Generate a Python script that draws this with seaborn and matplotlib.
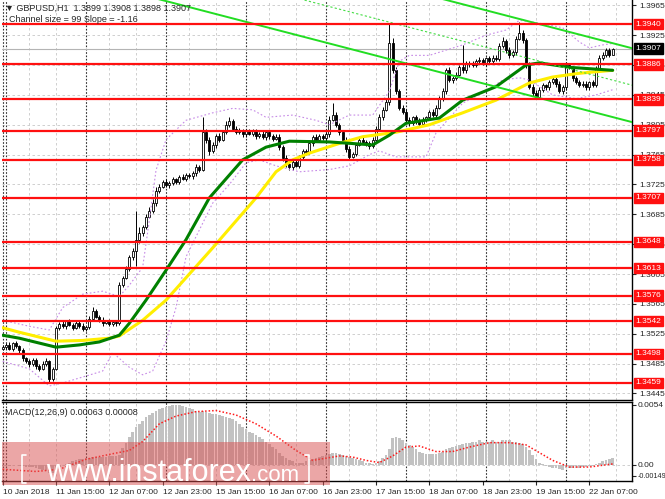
import numpy as np
import matplotlib
matplotlib.use("Agg")
import matplotlib.pyplot as plt
import matplotlib.transforms as mtransforms
from matplotlib.patches import Rectangle
from matplotlib.lines import Line2D
import seaborn as sns

# -----------------------------------
# Data (GBPUSD H1, one value per hourly bar)
# -----------------------------------
first_open = 1.3505

close = [
    1.3507, 1.3510, 1.3505, 1.3512, 1.3508, 1.3503,
    1.3492, 1.3488, 1.3484, 1.3490, 1.3482, 1.3478, 1.3485,
    1.3488, 1.3465, 1.3478, 1.3533,
    1.3538, 1.3535, 1.3542, 1.3537, 1.3533, 1.3540, 1.3536, 1.3531, 1.3534,
    1.3545, 1.3555, 1.3548,
    1.3544, 1.3540, 1.3542, 1.3538, 1.3541, 1.3539,
    1.3590, 1.3600, 1.3612, 1.3628, 1.3636, 1.3650, 1.3660, 1.3668, 1.3682, 1.3690,
    1.3700, 1.3716, 1.3722, 1.3728, 1.3724, 1.3727,
    1.3732, 1.3728, 1.3735, 1.3733, 1.3738, 1.3736, 1.3740, 1.3748, 1.3745,
    1.3795, 1.3785, 1.3770, 1.3778, 1.3790, 1.3785, 1.3795, 1.3805, 1.3810, 1.3800,
    1.3795, 1.3798, 1.3792, 1.3796, 1.3793, 1.3797, 1.3790, 1.3792, 1.3788, 1.3795,
    1.3790, 1.3786, 1.3789,
    1.3775, 1.3760, 1.3752, 1.3748, 1.3755, 1.3750, 1.3762, 1.3770, 1.3768, 1.3780,
    1.3788, 1.3785, 1.3790, 1.3787, 1.3792,
    1.3812, 1.3818, 1.3805, 1.3795, 1.3785, 1.3772, 1.3762, 1.3766, 1.3778, 1.3785,
    1.3782, 1.3780, 1.3776, 1.3784,
    1.3800, 1.3815, 1.3825, 1.3835, 1.3915, 1.3878, 1.3850, 1.3828, 1.3822,
    1.3812, 1.3808, 1.3815, 1.3810, 1.3806, 1.3812, 1.3815, 1.3822, 1.3818, 1.3828,
    1.3840, 1.3850, 1.3878, 1.3865, 1.3868, 1.3872,
    1.3882, 1.3878, 1.3886, 1.3888, 1.3885, 1.3890, 1.3892, 1.3888, 1.3894, 1.3890,
    1.3895, 1.3893,
    1.3910, 1.3917, 1.3905, 1.3898, 1.3902, 1.3920, 1.3928, 1.3918, 1.3885, 1.3856,
    1.3848, 1.3842,
    1.3852, 1.3858, 1.3855, 1.3862, 1.3866, 1.3860, 1.3850, 1.3855, 1.3885, 1.3882,
    1.3868, 1.3862,
    1.3858, 1.3860, 1.3855, 1.3862, 1.3858, 1.3880, 1.3895, 1.3898, 1.3905, 1.3899,
    1.3907,
]

# wick lengths above / below the body, in pips
hi_wick = [
    3, 2, 4, 2, 3, 2, 3, 2, 3, 2, 3, 2,
    3, 4, 2, 2, 3, 3, 4, 2, 3, 2, 3, 2,
    3, 2, 4, 6, 3, 2, 3, 2, 3, 2, 3, 4,
    3, 4, 3, 4, 40, 8, 3, 4, 5, 6, 5, 4,
    3, 4, 3, 3, 2, 3, 4, 3, 2, 3, 4, 3,
    20, 4, 3, 4, 3, 4, 3, 5, 6, 3, 4, 3,
    2, 3, 4, 3, 2, 3, 4, 3, 2, 3, 3, 4,
    3, 4, 2, 3, 4, 3, 2, 3, 4, 3, 4, 3,
    2, 3, 5, 16, 4, 3, 2, 3, 4, 3, 3, 4,
    3, 2, 3, 4, 3, 4, 4, 5, 25, 6, 4, 3,
    3, 4, 3, 2, 3, 4, 3, 2, 3, 4, 3, 4,
    4, 3, 4, 3, 4, 3, 30, 4, 3, 2, 3, 4,
    3, 2, 3, 4, 3, 4, 5, 3, 4, 3, 4, 15,
    4, 3, 4, 3, 3, 4, 3, 2, 3, 4, 3, 4,
    3, 4, 3, 2, 3, 3, 4, 3, 2, 3, 4, 3,
    4, 3, 3, 1,
]
lo_wick = [
    2, 3, 2, 3, 2, 4, 3, 2, 3, 2, 4, 3,
    2, 3, 6, 3, 2, 3, 2, 3, 2, 3, 2, 3,
    2, 3, 2, 3, 2, 3, 4, 2, 3, 2, 3, 2,
    3, 2, 3, 4, 20, 3, 4, 3, 2, 3, 4, 3,
    2, 3, 4, 3, 2, 3, 2, 3, 2, 3, 4, 3,
    2, 4, 5, 3, 4, 3, 2, 3, 3, 4, 3, 2,
    3, 4, 2, 3, 4, 3, 2, 3, 4, 3, 2, 4,
    4, 3, 4, 3, 2, 3, 4, 3, 2, 3, 2, 3,
    3, 4, 3, 2, 3, 4, 3, 4, 3, 2, 3, 2,
    3, 4, 3, 2, 3, 2, 3, 2, 4, 3, 4, 3,
    2, 4, 5, 3, 4, 3, 2, 3, 4, 3, 3, 2,
    3, 4, 3, 4, 3, 2, 3, 4, 3, 2, 3, 2,
    3, 4, 2, 3, 2, 3, 2, 4, 3, 2, 3, 2,
    3, 4, 3, 5, 3, 2, 3, 4, 3, 2, 4, 3,
    4, 3, 2, 4, 3, 3, 2, 4, 3, 2, 3, 2,
    3, 2, 3, 1,
]

# moving averages (bar index, price)
green_idx = [0, 5, 16, 23, 29, 35, 38, 43, 49, 55, 62, 72, 79, 86, 98, 111,
             116, 121, 131, 138, 148, 157, 161, 170, 183]
green_val = [1.3523, 1.3519, 1.3507, 1.3510, 1.3514, 1.3523, 1.3539, 1.3570,
             1.3610, 1.3651, 1.3707, 1.3758, 1.3775, 1.3783, 1.3782, 1.3778,
             1.3791, 1.3807, 1.3814, 1.3838, 1.3856, 1.3885, 1.3888, 1.3882, 1.3878]
yellow_idx = [0, 5, 16, 24, 32, 35, 42, 49, 63, 76, 82, 87, 92, 101, 108, 118,
              128, 138, 148, 158, 165, 173, 183]
yellow_val = [1.3533, 1.3527, 1.3515, 1.3516, 1.3519, 1.3522, 1.3543, 1.3570,
              1.3640, 1.3707, 1.3742, 1.3758, 1.3767, 1.3780, 1.3789, 1.3795,
              1.3805, 1.3821, 1.3838, 1.3861, 1.3869, 1.3874, 1.3878]

# Bollinger-style envelope (purple dotted)
band_up_idx = [0, 8, 14, 18, 24, 30, 35, 38, 42, 44, 46, 49, 55, 63, 69, 75, 79,
               87, 94, 98, 104, 111, 116, 119, 122, 128, 138, 145, 151, 155, 160,
               168, 173, 176, 180, 183]
band_up_val = [1.3543, 1.3535, 1.3530, 1.3560, 1.3578, 1.3582, 1.3575, 1.3590,
               1.3614, 1.3677, 1.3744, 1.3785, 1.3811, 1.3821, 1.3827, 1.3825,
               1.3815, 1.3818, 1.3811, 1.3805, 1.3818, 1.3818, 1.3850, 1.3890,
               1.3898, 1.3898, 1.3912, 1.3925, 1.3932, 1.3945, 1.3942, 1.3935,
               1.3916, 1.3908, 1.3912, 1.3914]
band_lo_idx = [0, 8, 14, 18, 30, 33, 38, 42, 45, 49, 52, 55, 59, 63, 68, 73, 77,
               82, 89, 95, 98, 104, 110, 113, 118, 127, 130, 138, 145, 150, 155,
               158, 165, 172, 178, 183]
band_lo_val = [1.3488, 1.3478, 1.3455, 1.3459, 1.3475, 1.3500, 1.3480, 1.3470,
               1.3475, 1.3515, 1.3560, 1.3628, 1.3664, 1.3700, 1.3725, 1.3754,
               1.3758, 1.3750, 1.3742, 1.3744, 1.3745, 1.3750, 1.3765, 1.3770,
               1.3762, 1.3762, 1.3794, 1.3834, 1.3850, 1.3865, 1.3868, 1.3865,
               1.3845, 1.3840, 1.3845, 1.3852]

# descending channel (end points: bar index, price)
chan_up_idx, chan_up_val = [120, 190], [1.39874, 1.39062]
chan_mid_idx, chan_mid_val = [80, 190], [1.39843, 1.38567]
chan_lo_idx, chan_lo_val = [40, 190], [1.39812, 1.38072]

# support / resistance levels
levels = [1.3940, 1.3886, 1.3839, 1.3797, 1.3758, 1.3707, 1.3648, 1.3613,
          1.3576, 1.3542, 1.3498, 1.3459]
last_price = 1.3907
price_ticks = [1.3445, 1.3485, 1.3525, 1.3565, 1.3605, 1.3645, 1.3685, 1.3725,
               1.3765, 1.3805, 1.3845, 1.3885, 1.3925, 1.3965]

# MACD(12,26,9): histogram per bar (x 1e-4), signal line (bar index, x 1e-4)
macd_hist = [
    -1, -1, -1, -0.5, -0.5, -1, -1.5, -2, -2, -2,
    -3, -4, -5, -6, -7, -7,
    -4, -2, 0, 1, 2,
    3, 4, 5, 5, 6, 6, 7, 7, 7, 7,
    7, 8, 8, 8, 9,
    15, 20, 25, 30, 34, 37, 40, 43, 45, 47, 49, 50, 51, 52, 53, 54, 54, 54, 53,
    52, 51, 50, 49, 48, 49,
    48, 47, 46, 46, 45, 44, 43, 42, 41, 40,
    37, 34, 32, 30, 29, 27, 25, 23, 21, 19, 16, 14, 11, 8, 6, 4, 3, 2, 1.5, 2,
    3, 4, 5, 6, 7, 8, 9, 10, 11, 11,
    10, 9, 8, 7, 6, 5, 4, 3, 2, 1.5, 1, 1.5, 3, 6, 9, 14,
    24, 25, 24, 22, 20, 18, 16, 14, 12, 11, 10, 10, 10, 10, 11, 12, 14, 15, 16,
    17, 18, 19, 20,
    20, 21, 21, 22, 21, 21, 21, 22, 21, 21, 22, 22, 22, 21,
    21, 20, 19, 16, 13, 9, 5, 2, 0.5, -1, -2, -2.5, -3, -4, -5, -3, -3, -2.5,
    -2.5, -2.5, -2, -2, -1.5, -1, 0.5, 2, 3, 4, 5, 6.3,
]
sig_idx = [0, 10, 17, 25, 33, 38, 42, 47, 52, 58, 64, 70, 76, 82, 88, 93, 97, 101,
           105, 109, 113, 117, 121, 125, 130, 135, 140, 146, 152, 157, 161, 165,
           170, 176, 183]
sig_val = [-4, -6, -4, 5, 10, 13, 21, 37, 44, 48, 49, 45, 37, 26, 13, 4, 6, 8, 7,
           4, 2, 8, 16, 17, 12, 12, 16, 20, 20, 18, 11, 4, -2, -2, 0.8]

# time axis labels (bar index, text)
xlab_idx = [0, 16, 32, 48, 64, 80, 96, 112, 128, 144, 160, 176]
xlab_txt = ["10 Jan 2018", "11 Jan 15:00", "12 Jan 07:00", "12 Jan 23:00",
            "15 Jan 15:00", "16 Jan 07:00", "16 Jan 23:00", "17 Jan 15:00",
            "18 Jan 07:00", "18 Jan 23:00", "19 Jan 15:00", "22 Jan 07:00"]
day_starts = [1, 25, 49, 73, 97, 121, 145, 169]

# -----------------------------------
# Style
# -----------------------------------
sns.set_style("white")
plt.rcParams['font.family'] = ['Liberation Sans', 'DejaVu Sans']

fig = plt.figure(figsize=(6.65, 4.99), dpi=100)
ax = fig.add_axes([2 / 665, 1 - 400 / 499, 630 / 665, 400 / 499])
ax2 = fig.add_axes([2 / 665, 1 - 481 / 499, 630 / 665, 79 / 499])

xmin, xmax = -0.2, 188.8

# -----------------------------------
# Candles
# -----------------------------------
closes = np.array(close)
opens = np.concatenate([[first_open], closes[:-1]])
idx = np.arange(len(closes))
body_lo = np.minimum(opens, closes)
body_hi = np.maximum(opens, closes)
highs = body_hi + np.array(hi_wick) * 1e-4
lows = body_lo - np.array(lo_wick) * 1e-4
heights = np.maximum(body_hi - body_lo, 0.00003)
bull = closes >= opens

ax.vlines(idx, lows, highs, color='black', lw=0.7, zorder=2)
ax.bar(idx[bull], heights[bull], bottom=body_lo[bull], width=0.62,
       color='white', edgecolor='black', lw=0.6, zorder=3)
ax.bar(idx[~bull], heights[~bull], bottom=body_lo[~bull], width=0.62,
       color='black', edgecolor='black', lw=0.6, zorder=3)

# envelope
ax.plot(band_up_idx, band_up_val, color='#c68ae6', ls=(0, (1.5, 2)), lw=0.8, zorder=3.5)
ax.plot(band_lo_idx, band_lo_val, color='#c68ae6', ls=(0, (1.5, 2)), lw=0.8, zorder=3.5)

# moving averages
sns.lineplot(x=yellow_idx, y=yellow_val, color='#ffee00', lw=2.2, ax=ax, zorder=4)
sns.lineplot(x=green_idx, y=green_val, color='#008000', lw=2.2, ax=ax, zorder=4.2)

# channel
ax.plot(chan_up_idx, chan_up_val, color='#22dd22', lw=1.4, zorder=5)
ax.plot(chan_lo_idx, chan_lo_val, color='#22dd22', lw=1.4, zorder=5)
ax.plot(chan_mid_idx, chan_mid_val, color='#44dd44', lw=0.8, ls=(0, (2, 2)), zorder=5)

# current price
ax.axhline(last_price, color='#b4b4b4', lw=0.8, zorder=1.5)

# levels
for lv in levels:
    ax.axhline(lv, color='#ff1010', lw=1.6, zorder=6)

# grid
for i in range(0, 190, 8):
    if i % 24 != 0:
        for a in (ax, ax2):
            a.axvline(i, color='#c8c8c8', lw=0.6, ls=(0, (3, 3)), zorder=0.5)
for d in [0] + day_starts:
    for a in (ax, ax2):
        a.axvline(d, color='#303030', lw=0.8, ls=(0, (1.5, 1.5)), zorder=0.6)
for t in price_ticks:
    ax.axhline(t, color='#c8c8c8', lw=0.6, ls=(0, (3, 3)), zorder=0.5)

ax.set_xlim(xmin, xmax)
ax.set_ylim(1.34362, 1.39722)
ax.yaxis.tick_right()
ax.set_yticks(price_ticks)
ax.set_yticklabels([f"{t:.4f}" for t in price_ticks])
ax.tick_params(axis='y', labelsize=6, length=3, pad=2, direction='out', right=True)
ax.set_xticks([])
for s in ('left', 'top'):
    ax.spines[s].set_visible(False)
for s in ('right', 'bottom'):
    ax.spines[s].set_color('black')
    ax.spines[s].set_linewidth(1)

trans = mtransforms.blended_transform_factory(ax.transAxes, ax.transData)
for lv in levels:
    ax.text(1.006, lv, f"{lv:.4f}", transform=trans, ha='left', va='center',
            fontsize=6, color='white', zorder=10, clip_on=False,
            bbox=dict(boxstyle='square,pad=0.22', fc='#ff1010', ec='#ff1010'))
ax.text(1.006, last_price, f"{last_price:.4f}", transform=trans, ha='left',
        va='center', fontsize=6, color='white', zorder=10, clip_on=False,
        bbox=dict(boxstyle='square,pad=0.22', fc='black', ec='black'))

# -----------------------------------
# MACD panel
# -----------------------------------
hist = np.array(macd_hist) * 1e-4
ax2.bar(idx, hist, width=0.85, color='#c2c2c2', lw=0, zorder=2)
ax2.plot(sig_idx, np.array(sig_val) * 1e-4, color='#ff1a1a', lw=1.1,
         ls=(0, (1, 1.3)), zorder=3)
ax2.axhline(0, color='#c8c8c8', lw=0.6, ls=(0, (3, 3)), zorder=0.5)
ax2.set_xlim(xmin, xmax)
ax2.set_ylim(-0.00146, 0.00567)
ax2.yaxis.tick_right()
ax2.set_yticks([0.0054, 0.0, -0.001])
ax2.set_yticklabels(["0.0054", "0.00", "-0.00149"])
ax2.tick_params(axis='y', labelsize=6, length=3, pad=1, direction='out', right=True)
ax2.get_yticklabels()[2].set_fontsize(5.2)
ax2.set_xticks(xlab_idx)
ax2.set_xticklabels(xlab_txt, ha='left', fontsize=6)
ax2.tick_params(axis='x', length=3, pad=3, direction='out', bottom=True)
ax2.spines['left'].set_visible(False)
for s in ('right', 'bottom', 'top'):
    ax2.spines[s].set_color('black')
    ax2.spines[s].set_linewidth(1)
ax2.text(0.005, 0.93, "MACD(12,26,9) 0.00063 0.00008", transform=ax2.transAxes,
         fontsize=6.5, va='top', ha='left', zorder=10)

# -----------------------------------
# Header texts
# -----------------------------------
fig.text(5 / 665, 1 - 8 / 499, "\u25bc GBPUSD,H1  1.3899 1.3908 1.3898 1.3907",
         fontsize=6.5, va='center', ha='left')
fig.text(9 / 665, 1 - 20 / 499, "Channel size = 99 Slope = -1.16",
         fontsize=6.5, va='center', ha='left')

# -----------------------------------
# Watermark
# -----------------------------------
fig.add_artist(Rectangle((2 / 665, 1 - 485 / 499), 328 / 665, 43 / 499,
                         transform=fig.transFigure, fc='#d94f4f', ec='none',
                         alpha=0.5, zorder=5))
fig.text(46 / 665, 1 - 481 / 499, "www.instaforex", fontsize=22, color='white',
         va='baseline', ha='left', zorder=6)
fig.text(251 / 665, 1 - 481 / 499, ".com", fontsize=16, color='white',
         va='baseline', ha='left', zorder=6)
for (x0, dx) in ((22, 4), (309, -4)):
    pts_x = [(x0 + dx) / 665, x0 / 665, x0 / 665, (x0 + dx) / 665]
    pts_y = [1 - 455 / 499, 1 - 455 / 499, 1 - 483 / 499, 1 - 483 / 499]
    fig.add_artist(Line2D(pts_x, pts_y, transform=fig.transFigure,
                          color='white', lw=1.2, zorder=6))

fig.savefig("out.png", dpi=100)
